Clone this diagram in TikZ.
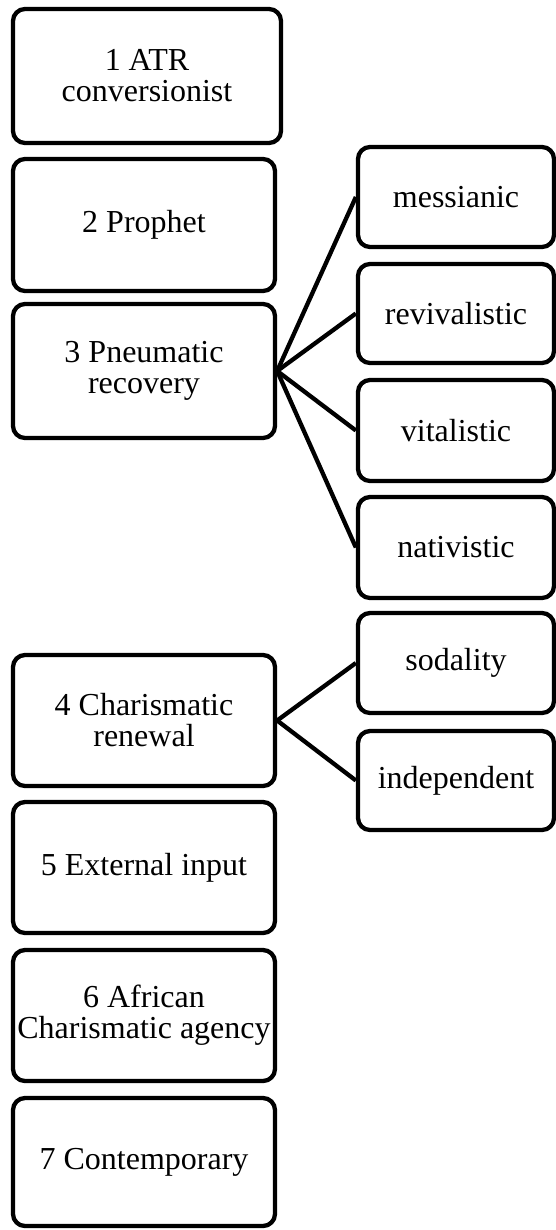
\documentclass[tikz,border=0pt]{standalone}
\usepackage{fontspec}
\setmainfont{Liberation Serif}
\begin{document}
\begin{tikzpicture}[x=1pt,y=-1pt,
  box/.style={draw=black, line width=4.3pt, rounded corners=12pt, fill=white,
    align=center, inner sep=0pt, font=\fontsize{32}{31}\selectfont},
  stage/.style={box, minimum width=262pt},
  branch/.style={box, minimum width=196pt},
  link/.style={draw=black, line width=4.3pt}]
\useasboundingbox (0,0) rectangle (556,1230);

% main sequence of stages
\node[box, minimum width=268pt, minimum height=134pt] (s1) at (147,76) {1 ATR\\conversionist};
\node[stage, minimum height=132pt] (s2) at (144,225) {2 Prophet};
\node[stage, minimum height=134pt] (s3) at (144,371) {3 Pneumatic\\recovery};
\node[stage, minimum height=131pt] (s4) at (144,720.5) {4 Charismatic\\renewal};
\node[stage, minimum height=131pt] (s5) at (144,867.5) {5 External input};
\node[stage, minimum height=131pt] (s6) at (144,1015.5) {6 African\\Charismatic agency};
\node[stage, minimum height=128pt] (s7) at (144,1162) {7 Contemporary};

% branches of stage 3
\node[branch, minimum height=100pt] (b1) at (456,197) {messianic};
\node[branch, minimum height=99pt] (b2) at (456,313.5) {revivalistic};
\node[branch, minimum height=101pt] (b3) at (456,430.5) {vitalistic};
\node[branch, minimum height=101pt] (b4) at (456,547.5) {nativistic};

% branches of stage 4
\node[branch, minimum height=100pt] (b5) at (456,663) {sodality};
\node[branch, minimum height=99pt] (b6) at (456,780.5) {independent};

% connectors
\foreach \b in {b1,b2,b3,b4} \draw[link] (s3.east) -- (\b.west);
\foreach \b in {b5,b6} \draw[link] (s4.east) -- (\b.west);
\end{tikzpicture}
\end{document}
